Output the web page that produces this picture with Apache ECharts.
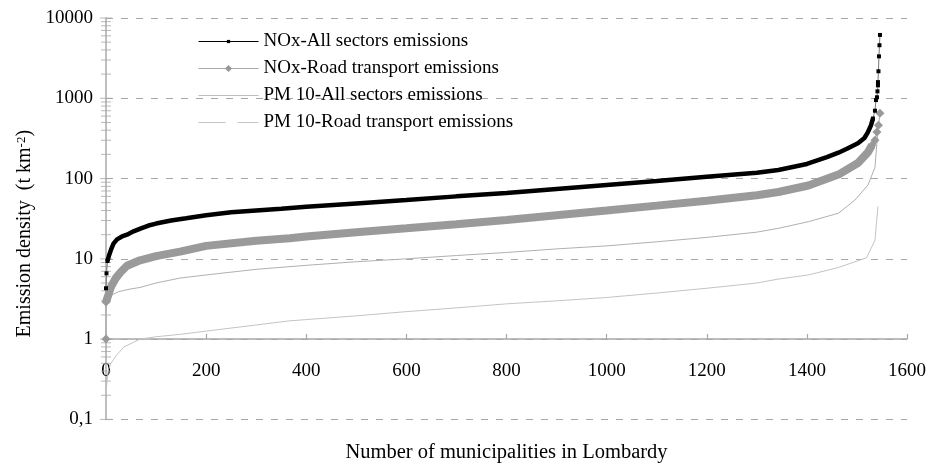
<!DOCTYPE html>
<html>
<head>
<meta charset="utf-8">
<script src="https://cdn.jsdelivr.net/npm/echarts@6.0.0/dist/echarts.min.js"></script>
<style>
  html, body { margin: 0; padding: 0; background: #fff; }
  #chart { width: 929px; height: 468px; }
</style>
</head>
<body>
<div id="chart"></div>
<script>
// ---- Data (rank of municipality, emission density t km-2) ----
const seriesNames = [
  'NOx-All sectors emissions',
  'NOx-Road transport emissions',
  'PM 10-All sectors emissions',
  'PM 10-Road transport emissions'
];

const noxAllStart = [[0, 4.3], [1, 6.6], [3, 9.4]];
const noxAll = [
  [3, 9.4], [6, 11], [10, 13], [15, 15.5], [22, 17.5], [32, 19], [42, 20], [55, 22],
  [70, 24], [85, 26], [100, 27.5], [130, 30], [160, 32], [200, 35], [250, 38],
  [300, 40], [350, 42], [400, 44.5], [500, 49], [600, 54], [700, 60], [800, 66],
  [900, 74], [1000, 83], [1100, 93], [1200, 105], [1300, 118], [1343, 128],
  [1400, 152], [1440, 185], [1463, 210], [1480, 235], [1502, 275], [1515, 320],
  [1522, 380], [1528, 460], [1532, 560]
];
const noxAllPeak = [
  [1532, 560], [1536, 700], [1538, 950], [1540, 1030], [1541, 1220], [1542, 1450],
  [1542, 1590], [1543, 2170], [1544, 3330], [1545, 4580], [1546, 6150]
];

const noxRoadStart = [[0, 1.0], [0, 2.9]];
const noxRoad = [
  [0, 2.9], [5, 3.6], [10, 4.5], [20, 5.8], [30, 6.9], [42, 8.2], [68, 9.6],
  [100, 10.8], [148, 12.3], [200, 14.5], [300, 16.8], [367, 18], [400, 19],
  [500, 21.5], [600, 24], [700, 27], [800, 30.5], [900, 35], [1000, 40],
  [1100, 46], [1200, 53], [1300, 62], [1343, 68], [1403, 82], [1463, 112],
  [1502, 156], [1522, 213], [1530, 260]
];
const noxRoadPeak = [
  [1530, 260], [1536, 300], [1540, 380], [1543, 460], [1546, 650]
];

const pm10All = [
  [0, 2.4], [3, 2.9], [10, 3.5], [25, 3.9], [48, 4.2], [68, 4.4], [100, 5.0],
  [147, 5.75], [200, 6.3], [300, 7.4], [400, 8.3], [500, 9.2], [600, 10],
  [700, 11], [800, 12], [900, 13.3], [1000, 14.5], [1100, 16.3], [1200, 18.5],
  [1300, 21.5], [1343, 24], [1403, 29], [1463, 37], [1496, 54], [1522, 83],
  [1536, 138], [1542, 400]
];

const pm10Road = [
  [0, 0.2], [2, 0.3], [5, 0.42], [10, 0.5], [20, 0.62], [36, 0.8], [68, 1.0],
  [100, 1.07], [150, 1.15], [201, 1.26], [300, 1.5], [367, 1.69], [400, 1.75],
  [500, 1.95], [600, 2.2], [700, 2.45], [800, 2.75], [900, 3.0], [1000, 3.3],
  [1100, 3.75], [1200, 4.3], [1300, 5.0], [1343, 5.6], [1403, 6.3], [1463, 7.8],
  [1519, 10.3], [1536, 17], [1542, 45]
];

const yMajorTicks = [0.1, 1, 10, 100, 1000, 10000];
const yMinorTicks = [
  0.2, 0.3, 0.4, 0.5, 0.6, 0.7, 0.8, 0.9,
  2, 3, 4, 5, 6, 7, 8, 9,
  20, 30, 40, 50, 60, 70, 80, 90,
  200, 300, 400, 500, 600, 700, 800, 900,
  2000, 3000, 4000, 5000, 6000, 7000, 8000, 9000
];

// ---- Chart ----
const FONT = 'Liberation Serif';
const AXIS_GRAY = '#a8a8a8';
const gridTop = 18, gridBottom = 48;
const plotH = 468 - gridTop - gridBottom;

const chart = echarts.init(document.getElementById('chart'), null, { renderer: 'canvas' });

function legendRow(i, centerY, itemHeight, extra) {
  return {
    show: true,
    orient: 'vertical',
    left: 198,
    top: centerY - 11,
    padding: 0,
    itemWidth: 60,
    itemHeight: itemHeight,
    itemGap: 0,
    selectedMode: false,
    textStyle: { fontFamily: FONT, fontSize: 19, color: '#000' },
    data: [Object.assign({ name: seriesNames[i] }, extra || {})]
  };
}

const option = {
  animation: false,
  backgroundColor: '#fff',
  grid: { left: 106, right: 21, top: gridTop, bottom: gridBottom, containLabel: false },
  legend: [
    legendRow(0, 43, 4, { lineStyle: { color: '#000', width: 1 }, itemStyle: { color: '#000' } }),
    legendRow(1, 70, 9, { lineStyle: { color: '#a8a8a8', width: 1 }, itemStyle: { color: '#999' } }),
    legendRow(2, 97, 8, { lineStyle: { color: '#bdbdbd', width: 1 }, itemStyle: { opacity: 0 } }),
    legendRow(3, 124, 8, { lineStyle: { color: '#c4c4c4', width: 1, type: [27, 12] }, itemStyle: { opacity: 0 } })
  ],
  xAxis: {
    type: 'value',
    min: 0,
    max: 1600,
    interval: 200,
    position: 'bottom',
    offset: -plotH / 5,
    name: 'Number of municipalities in Lombardy',
    nameLocation: 'middle',
    nameGap: 103,
    nameTextStyle: { fontFamily: FONT, fontSize: 20.5, color: '#000' },
    axisLine: { show: true, lineStyle: { color: AXIS_GRAY, width: 1.5 } },
    axisTick: { show: true, inside: true, length: 5, lineStyle: { color: AXIS_GRAY, width: 1.2 } },
    axisLabel: {
      fontFamily: FONT, fontSize: 19, color: '#000', margin: 23,
      formatter: function (v) { return String(v); }
    },
    splitLine: { show: false }
  },
  yAxis: {
    type: 'log',
    logBase: 10,
    min: 0.1,
    max: 10000,
    name: '{a|Emission density  (t km}{s|-2}{a|)}',
    nameLocation: 'middle',
    nameGap: 45,
    nameTextStyle: {
      fontFamily: FONT, fontSize: 20, color: '#000',
      padding: [0, 30, 0, 0],
      rich: {
        a: { fontFamily: FONT, fontSize: 20, color: '#000' },
        s: { fontFamily: FONT, fontSize: 13, color: '#000', verticalAlign: 'top' }
      }
    },
    axisLine: { show: true, lineStyle: { color: AXIS_GRAY, width: 1.5 } },
    axisTick: { show: false },
    axisLabel: {
      fontFamily: FONT, fontSize: 19, color: '#000', margin: 13,
      formatter: function (v) { return String(v).replace('.', ','); }
    },
    splitLine: { show: true, lineStyle: { color: '#a8a8a8', width: 1, type: [7, 8] } }
  },
  series: [
    {
      name: 'yticks', type: 'scatter', silent: true, clip: false, z: 1,
      symbol: 'rect', symbolSize: [12, 1],
      itemStyle: { color: AXIS_GRAY },
      data: yMajorTicks.map(v => [0, v])
    },
    {
      name: 'yminorticks', type: 'scatter', silent: true, clip: false, z: 1,
      symbol: 'rect', symbolSize: [10, 1],
      itemStyle: { color: AXIS_GRAY },
      data: yMinorTicks.map(v => [0, v])
    },
    {
      name: seriesNames[0], type: 'line', silent: true, z: 4, clip: false,
      symbol: 'rect', symbolSize: 4, showSymbol: true, showAllSymbol: true,
      data: noxAllStart,
      itemStyle: { color: '#000' },
      lineStyle: { color: '#777', width: 1 }
    },
    {
      name: seriesNames[1], type: 'line', silent: true, z: 3, clip: false,
      symbol: 'diamond', symbolSize: 9, showSymbol: true, showAllSymbol: true,
      data: noxRoadStart,
      itemStyle: { color: '#999' },
      lineStyle: { color: '#b0b0b0', width: 1.5 }
    },
    {
      name: seriesNames[3], type: 'line', silent: true, z: 2,
      symbol: 'none', data: pm10Road,
      lineStyle: { color: '#c4c4c4', width: 1 }
    },
    {
      name: seriesNames[2], type: 'line', silent: true, z: 2,
      symbol: 'none', data: pm10All,
      lineStyle: { color: '#b0b0b0', width: 1 }
    },
    {
      name: seriesNames[1], type: 'line', silent: true, z: 3,
      symbol: 'none', data: noxRoad,
      lineStyle: { color: '#9a9a9a', width: 8 }
    },
    {
      name: seriesNames[1], type: 'line', silent: true, z: 3,
      symbol: 'diamond', symbolSize: 9, showSymbol: true, showAllSymbol: true,
      data: noxRoadPeak,
      itemStyle: { color: '#999' },
      lineStyle: { color: '#a8a8a8', width: 1 }
    },
    {
      name: seriesNames[0], type: 'line', silent: true, z: 4,
      symbol: 'none', data: noxAll,
      lineStyle: { color: '#000', width: 4.5 }
    },
    {
      name: seriesNames[0], type: 'line', silent: true, z: 4,
      symbol: 'rect', symbolSize: 4, showSymbol: true, showAllSymbol: true,
      data: noxAllPeak,
      itemStyle: { color: '#000' },
      lineStyle: { color: '#777', width: 1 }
    }
  ]
};

chart.setOption(option);
</script>
</body>
</html>
